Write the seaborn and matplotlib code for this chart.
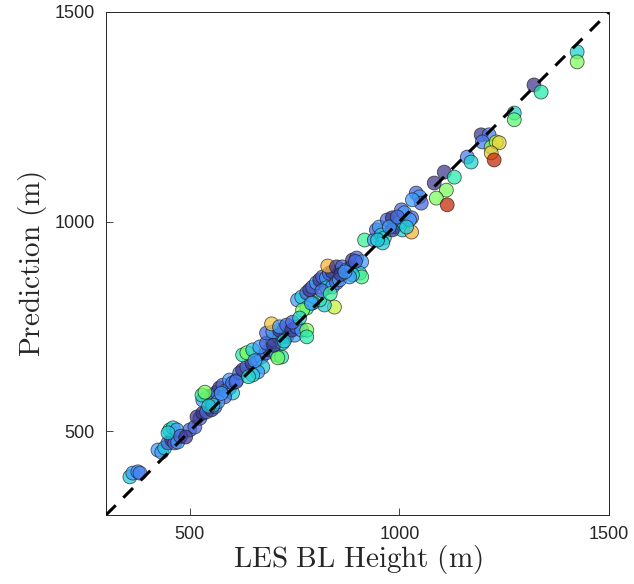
import numpy as np
import pandas as pd
import matplotlib
matplotlib.use("Agg")
import matplotlib.pyplot as plt
import seaborn as sns

# LES boundary-layer height vs model prediction (m), colour = third variable (0-1)
les_height = [
    357, 364, 376, 381,
    424, 433, 440, 448, 457, 464, 471, 452, 460, 469, 448,
    500, 512, 524, 517, 531, 540, 552, 560,
    531, 543, 555, 564, 571, 579, 588, 595, 602, 583, 567, 555, 529, 536, 595, 602, 612,
    619, 626, 636, 648, 660, 671, 683, 690, 674, 662, 650,
    626, 636, 650, 667, 683, 698, 714, 731, 707, 719, 710, 683, 698, 714, 738, 750, 695,
    714, 731, 743, 721, 755, 767, 779, 779,
    757, 767, 779, 786, 793, 802, 810, 817, 826, 833, 840, 826, 840, 850, 857,
    845, 821, 810, 793, 779, 769, 829,
    850, 864, 874, 886, 888, 898, 910, 905, 910, 888, 881,
    917, 940, 945, 952, 957, 964, 960, 971, 983, 988, 1000, 1005, 1012, 1007,
    1029, 1029, 1024, 983, 976, 948, 995, 1017,
    1040, 1048, 1052, 1031, 1083, 1112, 1088, 1114, 1107, 1131, 1162, 1171,
    1195, 1214, 1198, 1219, 1231, 1238, 1219, 1226,
    1274, 1274, 1321, 1338, 1424, 1424,
    # extra points filling the dense middle part
    478, 490, 545, 575, 610, 640, 655, 700, 725, 745, 762, 790, 815, 835, 860, 870, 895,
]
prediction = [
    391, 400, 403, 400,
    455, 450, 460, 472, 479, 472, 474, 503, 508, 503, 496,
    503, 510, 531, 534, 543, 546, 551, 558,
    574, 582, 586, 593, 603, 610, 598, 603, 591, 582, 570, 562, 586, 593, 622, 615, 622,
    639, 646, 653, 663, 670, 677, 687, 694, 653, 641, 634,
    682, 687, 694, 701, 710, 718, 722, 725, 682, 677, 675, 734, 737, 741, 737, 729, 756,
    749, 753, 741, 710, 749, 741, 741, 725,
    813, 820, 830, 837, 844, 854, 861, 868, 866, 877, 880, 842, 844, 854, 861,
    796, 801, 813, 806, 794, 789, 894,
    892, 892, 885, 892, 908, 913, 904, 877, 868, 873, 868,
    956, 956, 980, 987, 968, 961, 949, 1004, 1009, 987, 997, 1028, 1021, 980,
    1009, 975, 1004, 980, 987, 956, 1011, 987,
    1068, 1059, 1044, 1052, 1092, 1075, 1056, 1040, 1118, 1106, 1154, 1142,
    1207, 1207, 1190, 1178, 1190, 1188, 1164, 1147,
    1259, 1243, 1326, 1309, 1405, 1381,
    488, 486, 560, 590, 618, 630, 668, 705, 715, 760, 770, 805, 835, 828, 874, 880, 905,
]
colour_value = [
    .28, .20, .20, .15,
    .20, .20, .28, .12, .05, .12, .20, .35, .30, .20, .28,
    .12, .12, .12, .05, .05, .12, .05, .12,
    .20, .28, .12, .12, .05, .12, .20, .12, .28, .12, .20, .28, .35, .45, .20, .12, .20,
    .12, .05, .12, .05, .12, .20, .12, .05, .28, .20, .28,
    .35, .45, .28, .20, .12, .20, .12, .05, .28, .35, .45, .12, .20, .05, .12, .20, .65,
    .20, .12, .05, .28, .12, .20, .45, .35,
    .20, .28, .12, .05, .12, .20, .05, .12, .20, .12, .05, .28, .20, .12, .20,
    .55, .28, .35, .28, .35, .45, .68,
    .05, .12, .20, .12, .05, .12, .20, .28, .40, .28, .20,
    .38, .20, .12, .20, .28, .30, .28, .12, .05, .12, .28, .12, .20, .28,
    .12, .68, .20, .05, .20, .28, .12, .28,
    .12, .20, .12, .20, .05, .45, .45, .90, .05, .35, .15, .30,
    .05, .15, .15, .45, .52, .62, .65, .90,
    .30, .42, .05, .35, .30, .45,
    .12, .05, .28, .20, .12, .30, .20, .05, .28, .12, .30, .20, .12, .38, .05, .20, .12,
]

df = pd.DataFrame({"les": les_height, "pred": prediction, "c": colour_value})

plt.rcParams["mathtext.fontset"] = "cm"
plt.rcParams["font.family"] = ["Liberation Sans", "DejaVu Sans"]

fig = plt.figure(figsize=(6.34, 5.84), dpi=100)
ax = fig.add_axes([106 / 634, 1 - 515 / 584, 503 / 634, 503 / 584])

sns.scatterplot(
    data=df, x="les", y="pred", hue="c", palette="turbo", hue_norm=(0, 1),
    s=100, alpha=0.72, edgecolor="#1a1a1a", linewidth=0.6, legend=False, ax=ax,
)
ax.plot([300, 1500], [300, 1500], color="black", linestyle=(0, (4.5, 3.5)),
         linewidth=2.2, zorder=5)

ax.set_xlim(300, 1500)
ax.set_ylim(300, 1500)
ax.set_xticks([500, 1000, 1500])
ax.set_yticks([500, 1000, 1500])
ax.tick_params(direction="in", length=5, width=0.6, labelsize=13,
               colors="#262626", pad=8)
for sp in ax.spines.values():
    sp.set_linewidth(0.7)
    sp.set_color("#262626")

ax.set_xlabel(r"$\mathrm{LES\ BL\ Height\ (m)}$", fontsize=21, color="#262626", labelpad=0)
ax.set_ylabel(r"$\mathrm{Prediction\ (m)}$", fontsize=21, color="#262626", labelpad=4)

fig.savefig("out.png", dpi=100)
